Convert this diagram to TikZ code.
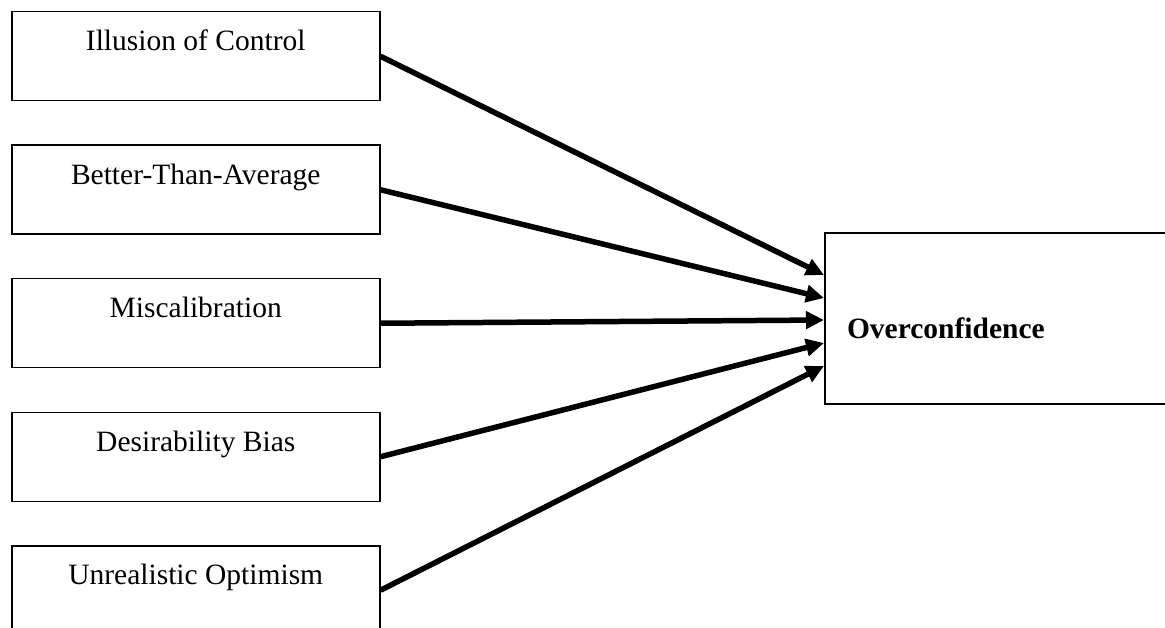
\documentclass[tikz,border=0pt]{standalone}
\usepackage{fontspec}
\setmainfont{Liberation Serif}
\usetikzlibrary{positioning,arrows.meta}

\begin{document}
\begin{tikzpicture}[x=1pt,y=-1pt,
    factor/.style={draw, line width=1.5pt, rectangle, minimum width=368pt,
      inner xsep=0pt, inner ysep=6pt, text height=33pt, text depth=44pt,
      font=\fontsize{29.5}{34}\selectfont},
    outcome/.style={draw, line width=2pt, rectangle, minimum width=420pt,
      minimum height=171pt, inner xsep=22pt, text width=376pt, align=left,
      text height=39pt, text depth=0pt,
      font=\fontsize{29.5}{34}\selectfont\bfseries},
    link/.style={line width=5.5pt, -{Triangle[length=18pt,width=17pt]}}]

  % Page frame (the right box and the last box run off the edge)
  \clip (0,0) rectangle (1165,628);

  % Left column of factors
  \node[factor, anchor=north west] (ill) at (11,11) {Illusion of Control};
  \node[factor, below=43pt of ill] (bta) {Better-Than-Average};
  \node[factor, below=43pt of bta] (mis) {Miscalibration};
  \node[factor, below=43pt of mis] (des) {Desirability Bias};
  \node[factor, below=43pt of des] (unr) {Unrealistic Optimism};

  % Outcome box on the right
  \node[outcome, anchor=north west] (over) at (824,232) {Overconfidence};

  % Entry points on the left side of the outcome box
  \coordinate (in1) at ([yshift=-43pt]over.north west);
  \coordinate (in2) at ([yshift=-66pt]over.north west);
  \coordinate (in3) at ([yshift=-88pt]over.north west);
  \coordinate (in4) at ([yshift=-111pt]over.north west);
  \coordinate (in5) at ([yshift=-134pt]over.north west);

  % Arrows from each factor
  \foreach \src/\dst in {ill/in1, bta/in2, mis/in3, des/in4, unr/in5}
    \draw[link] (\src.east) -- (\dst);

\end{tikzpicture}
\end{document}
